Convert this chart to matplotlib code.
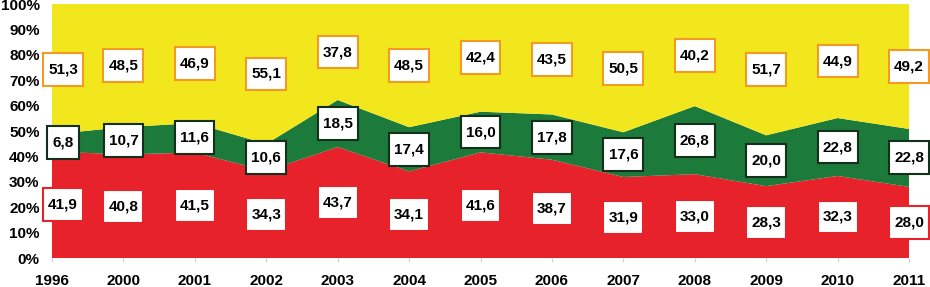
import numpy as np
import matplotlib
matplotlib.use("Agg")
import matplotlib.pyplot as plt
from matplotlib.path import Path

plt.rcParams['font.family'] = ['Liberation Sans', 'DejaVu Sans']
plt.rcParams['font.weight'] = 'bold'

years = ["1996", "2000", "2001", "2002", "2003", "2004", "2005",
         "2006", "2007", "2008", "2009", "2010", "2011"]
red = [41.9, 40.8, 41.5, 34.3, 43.7, 34.1, 41.6, 38.7, 31.9, 33.0, 28.3, 32.3, 28.0]
green = [6.8, 10.7, 11.6, 10.6, 18.5, 17.4, 16.0, 17.8, 17.6, 26.8, 20.0, 22.8, 22.8]
yellow = [51.3, 48.5, 46.9, 55.1, 37.8, 48.5, 42.4, 43.5, 50.5, 40.2, 51.7, 44.9, 49.2]

c_red = "#E8222A"
c_green = "#1C7A3A"
c_yellow = "#F2E61C"
c_orange = "#F39A22"

x = np.arange(len(years))
r = np.array(red)
g = np.array(green)
y = np.array(yellow)


def tallbox(x0, y0, width, height, mutation_size):
    # label boxes are taller than wide padding would give
    px = 0.33 * mutation_size
    py = 0.62 * mutation_size
    a, b = x0 - px, y0 - py
    c, d = x0 + width + px, y0 + height + py
    return Path([(a, b), (c, b), (c, d), (a, d), (a, b)], closed=True)


fig = plt.figure(figsize=(9.3, 2.87), dpi=100)
ax = fig.add_axes([52/930, 1-258/287, (909-52)/930, (258-4)/287])

ax.stackplot(x, r, g, y, colors=[c_red, c_green, c_yellow], linewidth=0)

def label(xi, yc, txt, edge):
    dx = 11 if xi == 0 else 0
    ax.annotate(txt, (xi, yc), xytext=(dx * 0.72, 0), textcoords="offset points",
                ha="center", va="center", fontsize=11, fontweight="bold",
                bbox=dict(boxstyle=tallbox, fc="white", ec=edge, lw=1.5),
                annotation_clip=False, zorder=5)

for i in x:
    label(i, r[i] / 2, f"{red[i]:.1f}".replace(".", ","), c_red)
    label(i, r[i] + g[i] / 2, f"{green[i]:.1f}".replace(".", ","), "#14301c")
    label(i, r[i] + g[i] + y[i] / 2, f"{yellow[i]:.1f}".replace(".", ","), c_orange)

ax.set_xlim(0, len(years) - 1)
ax.set_ylim(0, 100)
ax.set_xticks(x)
ax.set_xticklabels(years)
ax.set_yticks(np.arange(0, 101, 10))
ax.set_yticklabels([f"{v}%" for v in range(0, 101, 10)])
ax.tick_params(axis="x", length=3, pad=8.5, labelsize=11, color="#cccccc")
ax.tick_params(axis="y", length=0, pad=9, labelsize=11)
for s in ax.spines.values():
    s.set_visible(False)

fig.savefig("out.png", dpi=100)
